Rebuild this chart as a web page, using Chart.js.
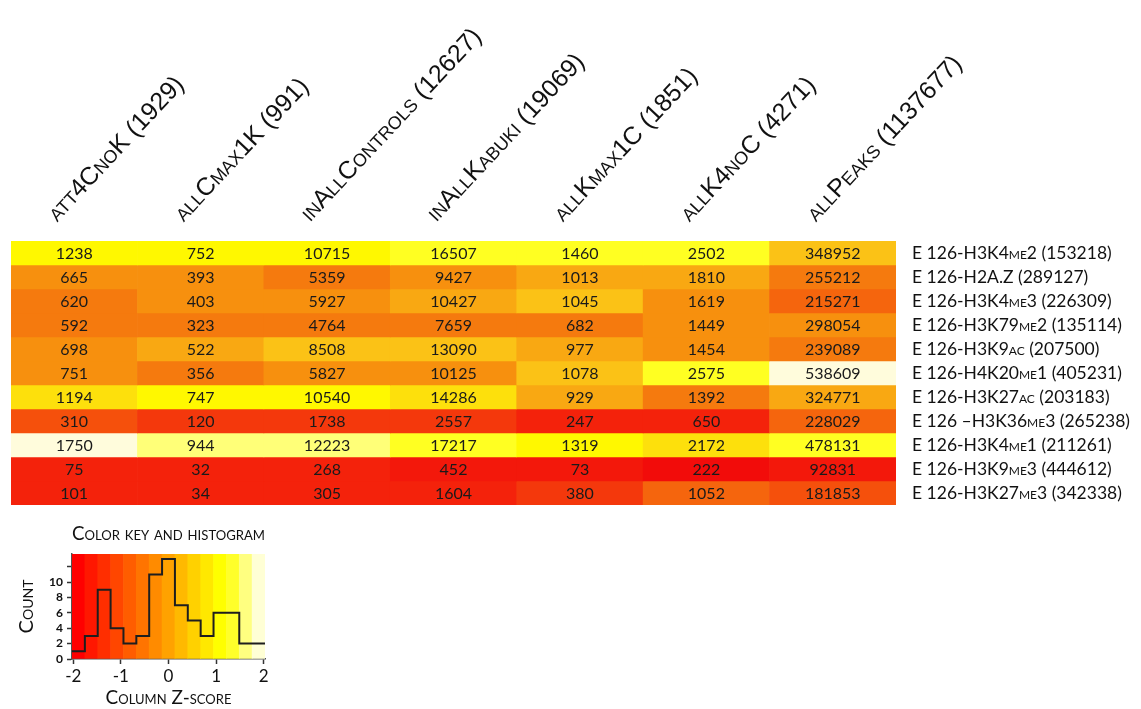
<!DOCTYPE html>
<html><head><meta charset="utf-8">
<script src="https://cdn.jsdelivr.net/npm/chart.js@4.4.1/dist/chart.umd.min.js"></script>
<style>
html,body{margin:0;padding:0;background:#fff;}
#wrap{position:relative;width:1141px;height:709px;overflow:hidden;}
#main{position:absolute;left:0;top:0;}
#key{position:absolute;left:0;top:515px;}
</style></head><body>
<div id="wrap"><canvas id="main" width="1141" height="709"></canvas><canvas id="key" width="300" height="194"></canvas></div>
<script>
// ---- data ----
const columns = ['att4CnoK (1929)', 'allCmax1K (991)', 'inAllControls (12627)', 'inAllKabuki (19069)', 'allKmax1C (1851)', 'allK4noC (4271)', 'allPeaks (1137677)'];
const rowLabels = ['E 126-H3K4me2 (153218)', 'E 126-H2A.Z (289127)', 'E 126-H3K4me3 (226309)', 'E 126-H3K79me2 (135114)', 'E 126-H3K9ac (207500)', 'E 126-H4K20me1 (405231)', 'E 126-H3K27ac (203183)', 'E 126 \u2013H3K36me3 (265238)', 'E 126-H3K4me1 (211261)', 'E 126-H3K9me3 (444612)', 'E 126-H3K27me3 (342338)'];
const H3K4me2  = [1238, 752, 10715, 16507, 1460, 2502, 348952];
const H2AZ     = [665, 393, 5359, 9427, 1013, 1810, 255212];
const H3K4me3  = [620, 403, 5927, 10427, 1045, 1619, 215271];
const H3K79me2 = [592, 323, 4764, 7659, 682, 1449, 298054];
const H3K9ac   = [698, 522, 8508, 13090, 977, 1454, 239089];
const H4K20me1 = [751, 356, 5827, 10125, 1078, 2575, 538609];
const H3K27ac  = [1194, 747, 10540, 14286, 929, 1392, 324771];
const H3K36me3 = [310, 120, 1738, 2557, 247, 650, 228029];
const H3K4me1  = [1750, 944, 12223, 17217, 1319, 2172, 478131];
const H3K9me3  = [75, 32, 268, 452, 73, 222, 92831];
const H3K27me3 = [101, 34, 305, 1604, 380, 1052, 181853];
const rowValues = [H3K4me2, H2AZ, H3K4me3, H3K79me2, H3K9ac, H4K20me1, H3K27ac, H3K36me3, H3K4me1, H3K9me3, H3K27me3];
const histCounts = [1, 3, 9, 4, 2, 3, 11, 13, 7, 5, 3, 6, 6, 2, 2];
const keyTicks = [-2, -1, 0, 1, 2];
const countTicks = [0, 2, 4, 6, 8, 10, 12];

// ---- colours ----
const keyPalette = ['#ff0000','#ff1700','#ff2e00','#ff4600','#ff5d00','#ff7400','#ff8b00','#ffa200','#ffb900','#ffd100','#ffe800','#ffff00','#ffff2a','#ffff80','#ffffd5'];
const cellPalette = ['#f20c0a','#f3180b','#f4220b','#f4380c','#f5500c','#f5650d','#f57a0e','#f7900e','#f9a812','#fbc216','#fde00c','#fff800','#ffff22','#ffff78','#fffcdc'];

// column z-scores
const nR = rowValues.length, nC = columns.length, nB = histCounts.length;
const z = rowValues.map(r => r.slice());
for (let j = 0; j < nC; j++) {
  const col = rowValues.map(r => r[j]);
  const m = col.reduce((a, b) => a + b, 0) / col.length;
  const sd = Math.sqrt(col.reduce((a, b) => a + (b - m) * (b - m), 0) / (col.length - 1));
  for (let i = 0; i < nR; i++) z[i][j] = (rowValues[i][j] - m) / sd;
}
let M = 0; z.forEach(r => r.forEach(v => { M = Math.max(M, Math.abs(v)); }));
const bw = 2 * M / nB;
const binOf = v => Math.max(0, Math.min(nB - 1, Math.floor((v + M) / bw)));

const cellValuePlugin = {
  id: 'cellValues',
  afterDatasetsDraw(chart) {
    const ctx = chart.ctx;
    ctx.save();
    ctx.font = '16px Lato';
    ctx.fillStyle = '#1a1a1a';
    ctx.textAlign = 'center';
    ctx.textBaseline = 'middle';
    chart.data.datasets.forEach((ds, i) => {
      chart.getDatasetMeta(i).data.forEach((bar, j) => {
        ctx.fillText(String(rowValues[i][j]), bar.x, (bar.y + bar.base) / 2 + 1);
      });
    });
    ctx.restore();
  }
};

new Chart(document.getElementById('main'), {
  type: 'bar',
  data: {
    labels: columns,
    datasets: rowValues.map((vals, i) => ({
      label: rowLabels[i],
      data: vals.map(() => [i, i + 1]),
      backgroundColor: vals.map((v, j) => cellPalette[binOf(z[i][j])]),
      borderWidth: 0,
      grouped: false,
      categoryPercentage: 1,
      barPercentage: 1,
      yAxisID: 'y'
    }))
  },
  options: {
    responsive: false,
    animation: false,
    events: [],
    layout: { padding: { left: 11, right: 0, top: 0, bottom: 204 } },
    plugins: { legend: { display: false }, tooltip: { enabled: false } },
    scales: {
      x: {
        type: 'category', position: 'top', offset: true,
        grid: { display: false, drawTicks: false }, border: { display: false },
        ticks: { autoSkip: false, minRotation: 47, maxRotation: 47, padding: 13, color: '#111',
          font: { family: "'Liberation Sans', Arial, sans-serif", size: 25, weight: 'small-caps' } },
        afterFit(s) { s.height = 241; }
      },
      y: { type: 'linear', min: 0, max: nR, reverse: true, display: false },
      y2: {
        type: 'category', labels: rowLabels, position: 'right', offset: true,
        grid: { display: false, drawTicks: false }, border: { display: false },
        ticks: { padding: 16, color: '#111', autoSkip: false,
          font: { family: 'Lato', size: 17.5, weight: 'small-caps' } },
        afterFit(s) { s.width = 245; }
      }
    }
  },
  plugins: [cellValuePlugin]
});

// ---- colour key & histogram ----
const yMax = Math.max(...histCounts) * 1.05;
const edges = [], centers = [];
for (let k = 0; k <= nB; k++) edges.push(-M + k * bw);
for (let k = 0; k < nB; k++) centers.push(-M + (k + 0.5) * bw);

new Chart(document.getElementById('key'), {
  data: {
    datasets: [
      { type: 'line', data: edges.map((e, k) => ({ x: e, y: histCounts[Math.min(k, nB - 1)] })),
        stepped: 'before', borderColor: '#1e1e1e', borderWidth: 2, pointRadius: 0, fill: false, order: 0 },
      { type: 'bar', data: centers.map((c, k) => ({ x: c, y: [0, yMax] })),
        backgroundColor: keyPalette, borderWidth: 0, barPercentage: 1, categoryPercentage: 1, order: 1 }
    ]
  },
  options: {
    responsive: false,
    animation: false,
    events: [],
    layout: { padding: { left: 0, right: 35, top: 0, bottom: 0 } },
    plugins: {
      legend: { display: false }, tooltip: { enabled: false },
      title: { display: true, text: 'Color key and histogram', fullSize: false, color: '#111',
        font: { family: 'Lato', size: 20, weight: 'small-caps' }, padding: { top: 7, bottom: 8 } }
    },
    scales: {
      x: {
        type: 'linear', min: -M, max: M, offset: false,
        afterBuildTicks(s) { s.ticks = keyTicks.map(v => ({ value: v })); },
        grid: { display: true, offset: false, drawOnChartArea: false, tickLength: 5, color: '#333', tickWidth: 1.5 },
        border: { display: true, color: '#555', width: 1.5 },
        ticks: { padding: 2, color: '#111', font: { family: 'Lato', size: 17 } },
        title: { display: true, text: 'Column Z-score', color: '#111', padding: { top: 0, bottom: 0 },
          font: { family: 'Lato', size: 19, weight: 'small-caps' } },
        afterFit(s) { s.height = 50; }
      },
      y: {
        type: 'linear', min: 0, max: yMax,
        afterBuildTicks(s) { s.ticks = countTicks.map(v => ({ value: v })); },
        grid: { display: true, drawOnChartArea: false, tickLength: 5, color: '#333', tickWidth: 1.5 },
        border: { display: true, color: '#555', width: 1.5 },
        ticks: { padding: 4, color: '#111', font: { family: 'Lato', size: 12, weight: 'bold' },
          callback: v => (v > 10 ? '' : String(v)) },
        title: { display: true, text: 'Count', color: '#111', padding: { top: 15, bottom: 0 },
          font: { family: 'Lato', size: 20, weight: 'small-caps' } },
        afterFit(s) { s.width = 72; }
      }
    }
  }
});
</script>
</body></html>
